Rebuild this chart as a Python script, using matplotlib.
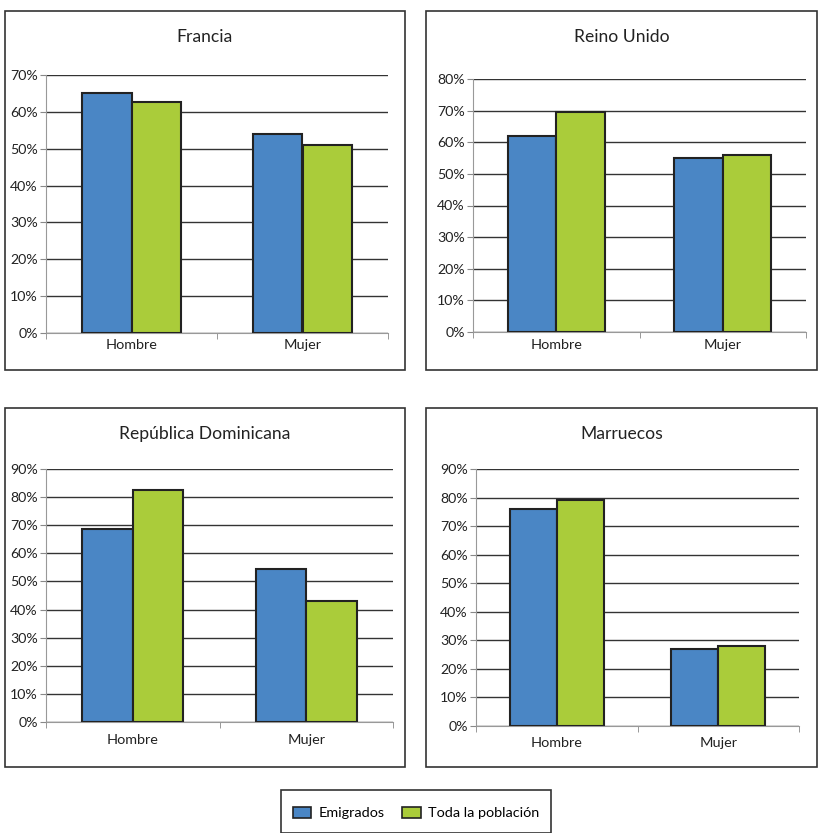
import matplotlib
matplotlib.use("Agg")
import matplotlib.pyplot as plt
from matplotlib.patches import Rectangle
from matplotlib.ticker import FuncFormatter

plt.rcParams['font.family'] = ['Lato', 'DejaVu Sans']

# data
categories = ['Hombre', 'Mujer']
series_names = ['Emigrados', 'Toda la población']
countries = ['Francia', 'Reino Unido', 'República Dominicana', 'Marruecos']
emigrados = [[65, 54], [62, 55], [68.5, 54.5], [76, 27]]
poblacion = [[62.7, 51], [69.5, 56], [82.5, 43], [79, 28]]
y_max = [70, 80, 90, 90]

blue = '#4A86C5'
green = '#AACC3A'

W, H = 818, 833
fig = plt.figure(figsize=(W / 100, H / 100), dpi=100)


def fx(px):
    return px / W


def fy(py):
    return 1 - py / H


# panel boxes (pixels: left, top, right, bottom)
boxes = [(5, 11, 405, 370), (426, 11, 817, 370),
         (5, 408, 405, 767), (426, 408, 817, 767)]
# axes areas in pixels
axes_px = [(46, 75, 388, 333), (473, 79, 806, 332),
           (46, 469, 393, 722), (476, 469, 799, 726)]
label_pad = [4, 5, 9, 8]

for i in range(4):
    l, t, r, b = boxes[i]
    fig.patches.append(Rectangle((fx(l), fy(b)), fx(r - l), (b - t) / H,
                                 transform=fig.transFigure, fill=False,
                                 edgecolor='#333333', lw=1.2))
    fig.text(fx((l + r) / 2), fy(t + 26), countries[i], ha='center',
             va='center', fontsize=12.6, color='#222222')

    al, at, ar, ab = axes_px[i]
    ax = fig.add_axes([fx(al), fy(ab), fx(ar - al), (ab - at) / H])
    x = range(len(categories))
    w = 0.29
    ax.bar([k - w / 2 for k in x], emigrados[i], w, color=blue,
           edgecolor='#222222', lw=1.5, zorder=3)
    ax.bar([k + w / 2 for k in x], poblacion[i], w, color=green,
           edgecolor='#222222', lw=1.5, zorder=3)
    ax.set_xlim(-0.5, 1.5)
    ax.set_ylim(0, y_max[i])
    ax.set_yticks(range(0, y_max[i] + 1, 10))
    ax.yaxis.set_major_formatter(FuncFormatter(lambda v, p: f'{int(v)}%'))
    ax.set_xticks(list(x))
    ax.set_xticklabels(categories)
    ax.set_xticks([-0.5, 0.5, 1.5], minor=True)
    ax.tick_params(axis='x', which='major', length=0, labelsize=10.4,
                   colors='#222222', pad=label_pad[i])
    ax.tick_params(axis='x', which='minor', length=4, color='#888888')
    ax.tick_params(axis='y', length=4, color='#888888', labelsize=10.2,
                   labelcolor='#222222', pad=2)
    ax.grid(axis='y', color='#333333', lw=1, zorder=0)
    for s in ['top', 'right']:
        ax.spines[s].set_visible(False)
    ax.spines['left'].set_color('#999999')
    ax.spines['bottom'].set_color('#999999')

# legend box
handles = [Rectangle((0, 0), 1, 1, facecolor=blue, edgecolor='#222222', lw=1.2),
           Rectangle((0, 0), 1, 1, facecolor=green, edgecolor='#222222', lw=1.2)]
fig.patches.append(Rectangle((fx(281), fy(833)), fx(270), 43 / H,
                             transform=fig.transFigure, fill=False,
                             edgecolor='#333333', lw=1.2))
fig.legend(handles, series_names, loc='center', bbox_to_anchor=(fx(416), fy(813)),
           ncol=2, frameon=False, fontsize=10.4, handlelength=1.3,
           handleheight=0.8, columnspacing=1.2, handletextpad=0.5)

fig.savefig('out.png', dpi=100)
